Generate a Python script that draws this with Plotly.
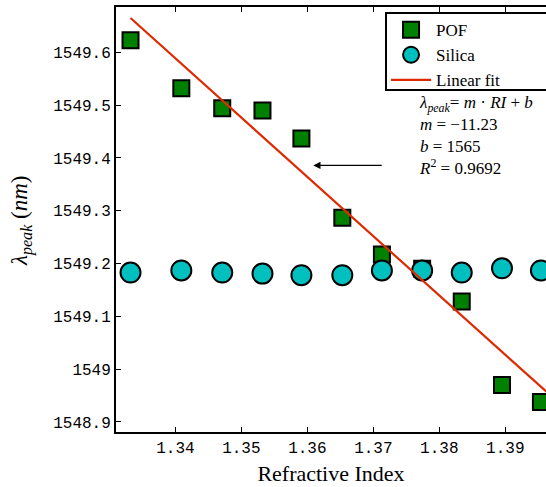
import plotly.graph_objects as go

# ---- data ----
pof_ri = [1.3332, 1.3409, 1.3471, 1.3532, 1.3591, 1.3653, 1.3713, 1.3774, 1.3834, 1.3895, 1.3954]
pof_peak = [1549.623, 1549.532, 1549.494, 1549.490, 1549.437, 1549.287, 1549.217,
            1549.190, 1549.128, 1548.970, 1548.938]

silica_ri = [1.3332, 1.3409, 1.3471, 1.3532, 1.3591, 1.3653, 1.3713, 1.3774, 1.3834, 1.3895, 1.3954]
silica_peak = [1549.183, 1549.187, 1549.183, 1549.181, 1549.178, 1549.178, 1549.187,
               1549.187, 1549.183, 1549.191, 1549.187]

fit_m = -11.23
fit_b = 1564.637
fit_ri = [1.3332, 1.3990]

x_tickvals = [1.34, 1.35, 1.36, 1.37, 1.38, 1.39]
x_ticktext = ["1.34", "1.35", "1.36", "1.37", "1.38", "1.39"]
y_tickvals = [1548.9, 1549.0, 1549.1, 1549.2, 1549.3, 1549.4, 1549.5, 1549.6]
y_ticktext = ["1548.9", "1549", "1549.1", "1549.2", "1549.3", "1549.4", "1549.5", "1549.6"]

fit_peak = [fit_m * r + fit_b for r in fit_ri]

fig = go.Figure()
fig.add_trace(go.Scatter(
    x=pof_ri, y=pof_peak, mode="markers", name="POF",
    marker=dict(symbol="square", size=16, color="#008000",
                line=dict(color="black", width=2))))
fig.add_trace(go.Scatter(
    x=silica_ri, y=silica_peak, mode="markers", name="Silica",
    marker=dict(symbol="circle", size=20, color="#00BFBF",
                line=dict(color="black", width=2))))
fig.add_trace(go.Scatter(
    x=fit_ri, y=fit_peak, mode="lines", name="Linear fit",
    line=dict(color="#DD2A00", width=2.2)))
# invisible trace to host the top axis
fig.add_trace(go.Scatter(x=[fit_ri[0]], y=[fit_peak[0]], xaxis="x2", mode="markers",
                         marker=dict(opacity=0), showlegend=False, hoverinfo="skip"))

mono = "Liberation Mono"
serif = "Liberation Serif"

fig.update_layout(
    width=546, height=487,
    margin=dict(l=116, r=0, t=7, b=55),
    paper_bgcolor="white", plot_bgcolor="white",
    showlegend=True,
    legend=dict(x=0.628, y=0.988, xanchor="left", yanchor="top",
                borderwidth=0, bgcolor="rgba(0,0,0,0)",
                font=dict(family=serif, size=17, color="black"),
                tracegroupgap=0, itemwidth=40),
    xaxis=dict(range=[1.3310, 1.39617], tickvals=x_tickvals, ticktext=x_ticktext,
               ticks="inside", ticklen=5, tickwidth=1, tickcolor="black",
               showline=True, linecolor="black", linewidth=2, showgrid=False,
               zeroline=False, tickfont=dict(family=mono, size=16, color="black"),
               title=dict(text="Refractive Index", font=dict(family=serif, size=22, color="black"),
                          standoff=8)),
    xaxis2=dict(overlaying="x", matches="x", side="top", tickvals=x_tickvals,
                showticklabels=False, ticks="inside", ticklen=5, tickwidth=1,
                tickcolor="black", showline=True, linecolor="black", linewidth=2,
                showgrid=False, zeroline=False),
    yaxis=dict(range=[1548.881, 1549.686], tickvals=y_tickvals, ticktext=y_ticktext,
               ticks="inside", ticklen=5, tickwidth=1, tickcolor="black",
               showline=True, linecolor="black", linewidth=2, showgrid=False,
               zeroline=False, tickfont=dict(family=mono, size=16, color="black")),
)

# legend frame
fig.add_shape(type="rect", xref="paper", yref="paper",
              x0=(386 - 116) / 430, x1=(548 - 116) / 430,
              y0=1 - (90 - 7) / 424.7, y1=1 - (13 - 7) / 424.7,
              line=dict(color="black", width=2), fillcolor="rgba(0,0,0,0)", layer="above")

fig.add_annotation(
    xref="paper", yref="paper", x=-0.218, y=0.497, xanchor="center", yanchor="middle",
    textangle=-90, showarrow=False,
    text="<i>λ</i><sub><i>peak</i></sub> (<i>nm</i>)",
    font=dict(family=serif, size=23, color="black"))

fig.add_annotation(
    xref="paper", yref="paper", x=0.700, y=0.802, xanchor="left", yanchor="top",
    align="left", showarrow=False,
    text=("<i>λ</i><sub><i>peak</i></sub>= <i>m</i> · <i>RI</i> + <i>b</i><br>"
          "<i>m</i> = −11.23<br><i>b</i> = 1565<br><i>R</i><sup>2</sup> = 0.9692"),
    font=dict(family=serif, size=17, color="black"))

fig.add_annotation(
    xref="x", yref="y", axref="x", ayref="y",
    x=1.3609, y=1549.386, ax=1.3715, ay=1549.386,
    showarrow=True, arrowhead=2, arrowsize=1.2, arrowwidth=1.2, arrowcolor="black", text="")

fig.write_html("out.html")
